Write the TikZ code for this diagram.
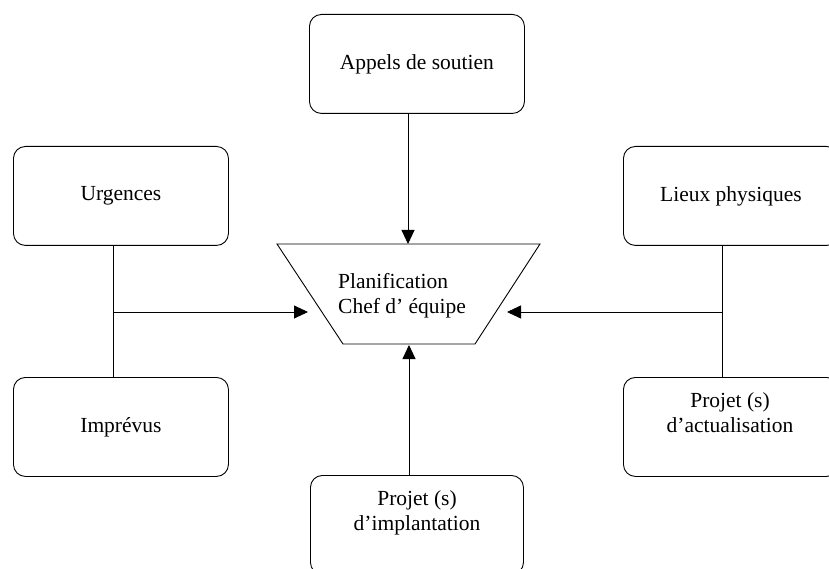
\documentclass[tikz,border=0pt]{standalone}
\usepackage{fontspec}
\setmainfont{Liberation Serif}
\usetikzlibrary{arrows.meta}
\begin{document}
\begin{tikzpicture}[x=1pt,y=-1pt,
  box/.style={draw, rounded corners=12pt, line width=0.9pt, minimum width=215pt, minimum height=99pt, inner sep=0pt, font=\fontsize{21.5}{25}\selectfont, anchor=north west},
  lbl/.style={font=\fontsize{21.5}{25}\selectfont, align=center, inner sep=0pt},
  conn/.style={line width=0.9pt},
  arr/.style={line width=0.9pt, -{Triangle[length=14pt,width=13pt]}}
]
\useasboundingbox (0,0) rectangle (829,569);
\clip (0,0) rectangle (829,569);

% boxes
\node[box] (appels) at (309,14) {Appels de soutien};
\node[box] (urg) at (13,146) {Urgences};
\node[box] (impr) at (13,377) {Imprévus};
\node[box] (lieux) at (623,146) {Lieux physiques};
\node[box] (actu) at (623,377) {};
\node[lbl] (actutxt) at (730,413) {Projet (s)\\d’actualisation};
\node[box, minimum width=213pt] (impl) at (310,475) {};
\node[lbl] (impltxt) at (417,513) {Projet (s)\\d’implantation};

% trapezoid
\draw[conn] (277,244) coordinate (tl) -- (540,244) coordinate (tr)
  -- (475,344) coordinate (br) -- (343,344) coordinate (bl) -- cycle;
\node[lbl, align=left, anchor=west] (plan) at (338,296) {Planification\\Chef d’ équipe};

% connection points
\coordinate (ptop) at (408,244);
\coordinate (pbot) at (409,345);
\coordinate (pleft) at (308,312);
\coordinate (pright) at (507,312);
\coordinate (lj) at (113,312);
\coordinate (rj) at (722,312);

% connectors
\draw[arr] (appels.south -| ptop) -- (ptop);
\draw[arr] (impl.north -| pbot) -- (pbot);
\draw[conn] (urg.south -| lj) -- (impr.north -| lj);
\draw[arr] (lj) -- (pleft);
\draw[conn] (lieux.south -| rj) -- (actu.north -| rj);
\draw[arr] (rj) -- (pright);
\end{tikzpicture}
\end{document}
